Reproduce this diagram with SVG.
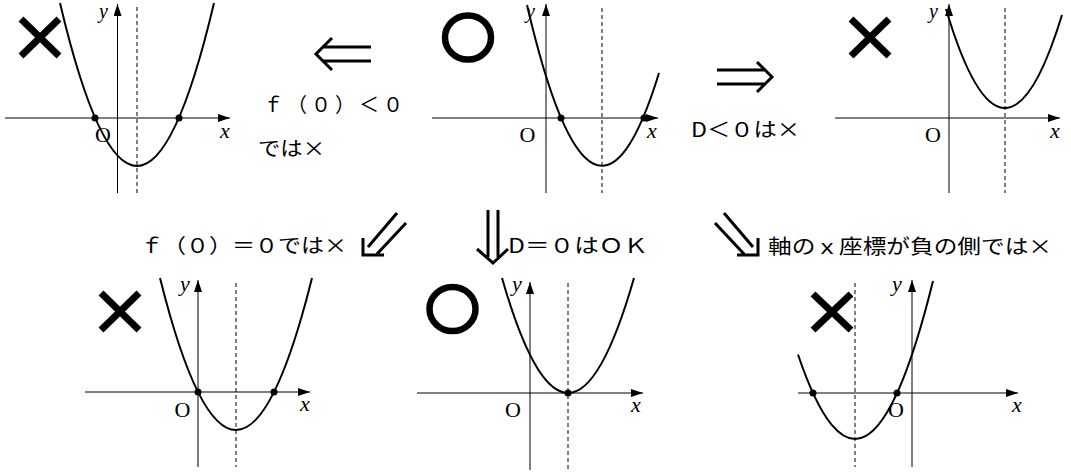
<svg xmlns="http://www.w3.org/2000/svg" width="1071" height="473" viewBox="0 0 1071 473">
<style>
.ax{stroke:#000;stroke-width:1;fill:none}
.dash{stroke:#000;stroke-width:1;stroke-dasharray:4 3;fill:none}
.pb{stroke:#000;stroke-width:2;fill:none}
.dot{fill:#000}
.lbl{font-family:"Liberation Serif",serif;font-size:22px;fill:#000}
.var{font-family:"Liberation Serif",serif;font-size:22px;font-style:italic;fill:#000}
.vy{font-family:"Liberation Serif",serif;font-size:20px;font-style:italic;fill:#000}
.mk{stroke:#000;stroke-width:7;fill:none}
.jp{font-family:"Noto Sans CJK JP",sans-serif;font-size:20px;fill:#000}
.arr{stroke:#000;stroke-width:3;fill:none}
</style>
<defs>
<marker id="ah" viewBox="0 0 12 8" refX="12" refY="4" markerWidth="12" markerHeight="8" markerUnits="userSpaceOnUse" orient="auto">
<path d="M0,0 L12,4 L0,8 z" fill="#000"/>
</marker>
</defs>

<g id="graph-top-left">
<path class="dash" d="M137,7 V193"/>
<path class="ax" d="M5,118 H230" marker-end="url(#ah)"/>
<path class="ax" d="M117.5,193 V4" marker-end="url(#ah)"/>
<path class="pb" d="M60,3 Q137,329 214,3"/>
<circle class="dot" cx="95" cy="118" r="3.5"/>
<circle class="dot" cx="179" cy="118" r="3.5"/>
<text class="lbl" x="103" y="142" text-anchor="middle">O</text>
<text class="var" x="220" y="138">x</text>
<text class="vy" x="99" y="18">y</text>
<path class="mk" d="M21,19 L59,56 M59,19 L21,56"/>
</g>

<g id="graph-top-center">
<path class="dash" d="M602,8 V193"/>
<path class="ax" d="M432,118 H658" marker-end="url(#ah)"/>
<path class="ax" d="M546,193 V4" marker-end="url(#ah)"/>
<path class="pb" d="M527,5 Q593,288 659,73"/>
<circle class="dot" cx="561" cy="118" r="3.5"/>
<circle class="dot" cx="644" cy="118" r="3.5"/>
<text class="lbl" x="527.5" y="142" text-anchor="middle">O</text>
<text class="var" x="647" y="138">x</text>
<text class="vy" x="526" y="18">y</text>
<ellipse cx="468" cy="37.5" rx="23" ry="22" stroke="#000" stroke-width="6.5" fill="none"/>
</g>

<g id="graph-top-right">
<path class="dash" d="M1005,8 V193"/>
<path class="ax" d="M835,118 H1060" marker-end="url(#ah)"/>
<path class="ax" d="M949,193 V4" marker-end="url(#ah)"/>
<path class="pb" d="M946,9 Q1004,204 1062,15"/>
<text class="lbl" x="933" y="142" text-anchor="middle">O</text>
<text class="var" x="1050" y="138">x</text>
<text class="vy" x="929" y="18">y</text>
<path class="mk" d="M851,19 L889,56 M889,19 L851,56"/>
</g>

<g id="graph-bottom-left">
<path class="dash" d="M236,283 V467"/>
<path class="ax" d="M85,392 H310" marker-end="url(#ah)"/>
<path class="ax" d="M198,467 V280" marker-end="url(#ah)"/>
<path class="pb" d="M160,278 Q236,582 312,278"/>
<circle class="dot" cx="198" cy="392" r="3.5"/>
<circle class="dot" cx="274" cy="392" r="3.5"/>
<text class="lbl" x="182.5" y="417" text-anchor="middle">O</text>
<text class="var" x="300" y="411">x</text>
<text class="var" x="180" y="291">y</text>
<path class="mk" d="M101,293 L139,330 M139,293 L101,330"/>
</g>

<g id="graph-bottom-center">
<path class="dash" d="M568,283 V470"/>
<path class="ax" d="M417,393 H643" marker-end="url(#ah)"/>
<path class="ax" d="M530,470 V282" marker-end="url(#ah)"/>
<path class="pb" d="M502,278 Q568,508 634,278"/>
<circle class="dot" cx="568" cy="393" r="3.5"/>
<text class="lbl" x="513" y="417" text-anchor="middle">O</text>
<text class="var" x="631" y="412">x</text>
<text class="var" x="512" y="291">y</text>
<ellipse cx="452.5" cy="309" rx="23" ry="22" stroke="#000" stroke-width="6.5" fill="none"/>
</g>

<g id="graph-bottom-right">
<path class="dash" d="M855,283 V467"/>
<path class="ax" d="M798,393 H1018" marker-end="url(#ah)"/>
<path class="ax" d="M912,467 V280" marker-end="url(#ah)"/>
<path class="pb" d="M798,354.5 Q865.5,554.5 933,281"/>
<circle class="dot" cx="813" cy="393" r="3.5"/>
<circle class="dot" cx="897" cy="393" r="3.5"/>
<text class="lbl" x="896" y="417" text-anchor="middle">O</text>
<text class="var" x="1012" y="412">x</text>
<text class="var" x="892" y="291">y</text>
<path class="mk" d="M813,294 L851,330 M851,294 L813,330"/>
</g>

<g id="connectors">
<path class="arr" d="M322,47 H371 M322,61 H371 M332,38 L316,54 L332,70"/>
<path class="arr" d="M717,70 H766 M717,84 H766 M757,62 L772,77 L757,92"/>
<path class="arr" d="M397,213 L368,247 M406,223 L377,254 M363,238 V255 H384"/>
<path class="arr" d="M488,210 V257 M498,210 V257 M477,249 L493,263 L508,249"/>
<path class="arr" d="M724,213 L753,247 M715,223 L744,254 M758,238 V255 H737"/>
</g>

<g id="label-left">
<text class="jp" x="263" y="112" textLength="140" lengthAdjust="spacing">ｆ（０）＜０</text>
<text class="jp" x="258" y="156" textLength="67" lengthAdjust="spacingAndGlyphs">では×</text>
</g>
<g id="label-right">
<text class="jp" x="691" y="137" textLength="109" lengthAdjust="spacingAndGlyphs">D＜０は×</text>
</g>
<g id="label-bottom-left">
<text class="jp" x="140" y="253" textLength="207" lengthAdjust="spacingAndGlyphs">ｆ（０）＝０では×</text>
</g>
<g id="label-bottom-center">
<text class="jp" x="508" y="253" textLength="140" lengthAdjust="spacingAndGlyphs">D＝０はＯＫ</text>
</g>
<g id="label-bottom-right">
<text class="jp" x="768" y="254" textLength="284" lengthAdjust="spacingAndGlyphs">軸のｘ座標が負の側では×</text>
</g>
</svg>
